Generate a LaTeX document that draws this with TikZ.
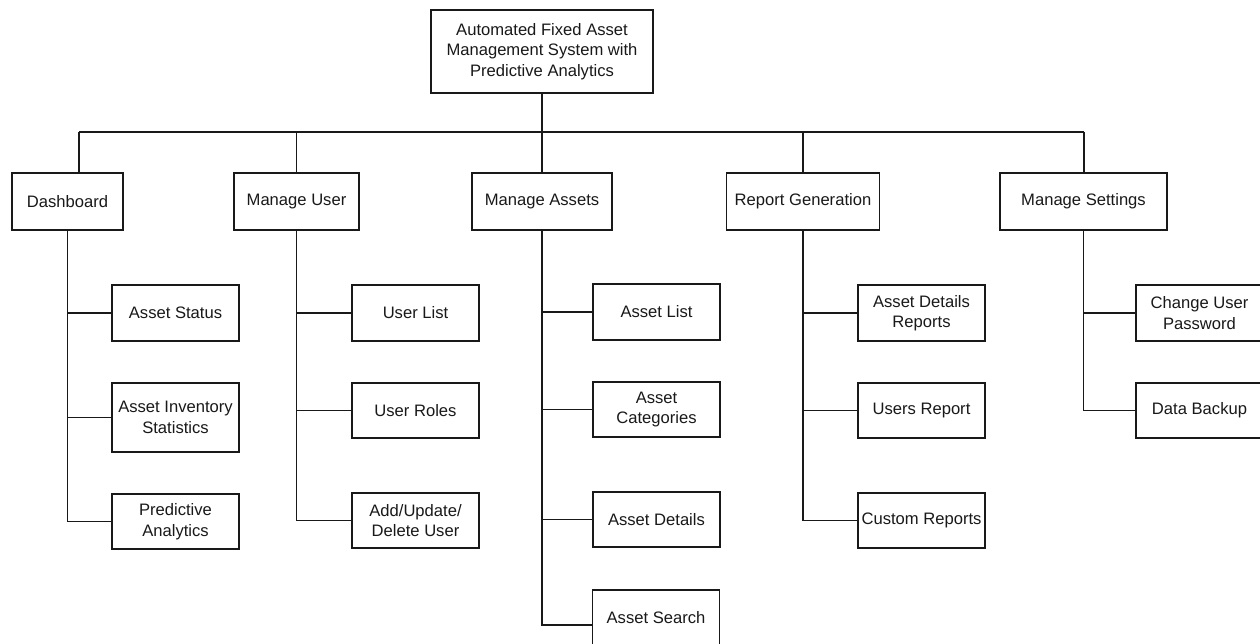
\documentclass[tikz,border=0pt]{standalone}
\usepackage{fontspec}
\setmainfont{Liberation Sans}
\begin{document}
\begin{tikzpicture}[x=1pt,y=-1pt,
  box/.style={draw=black!90, line width=1.4pt, fill=white, align=center, inner sep=0pt,
    font=\fontsize{16.6}{20.5}\selectfont, text=black!90},
  lvl/.style={box, minimum height=57pt},
  leaf/.style={box, minimum width=127pt, minimum height=56pt},
  wire/.style={draw=black!90, line width=1.4pt}
]
\clip (0,0) rectangle (1260,644);
\fill[white] (0,0) rectangle (1260,644);

% root
\node[box, minimum width=222pt, minimum height=83pt] (root) at (542,51.5)
  {Automated Fixed Asset\\Management System with\\Predictive Analytics};

% level 1
\node[lvl, minimum width=111pt] (dash) at (67.5,201.5) {Dashboard};
\node[lvl, minimum width=125pt] (mu) at (296.5,201.5) {Manage User};
\node[lvl, minimum width=140pt] (ma) at (542,201.5) {Manage Assets};
\node[lvl, minimum width=153pt] (rg) at (803,201.5) {Report Generation};
\node[lvl, minimum width=167pt] (ms) at (1083.5,201.5) {Manage Settings};

% dashboard children
\node[leaf] (d1) at (175.5,313) {Asset Status};
\node[leaf, minimum height=69pt] (d2) at (175.5,417.5) {Asset Inventory\\Statistics};
\node[leaf, minimum height=55pt] (d3) at (175.5,521.5) {Predictive\\Analytics};

% user children
\node[leaf] (u1) at (415.5,313) {User List};
\node[leaf, minimum height=55pt] (u2) at (415.5,410.5) {User Roles};
\node[leaf, minimum height=55pt] (u3) at (415.5,520.5) {Add/Update/\\Delete User};

% asset children
\node[leaf] (a1) at (656.5,312) {Asset List};
\node[leaf, minimum height=55pt] (a2) at (656.5,409.5) {Asset\\Categories};
\node[leaf, minimum height=55pt] (a3) at (656.5,519.5) {Asset Details};
\node[leaf, minimum height=55pt] (a4) at (656,617.5) {Asset Search};
\path (a4.west) ++(0,7.5) coordinate (a4in);

% report children
\node[leaf] (r1) at (921.5,313) {Asset Details\\Reports};
\node[leaf, minimum height=55pt] (r2) at (921.5,410.5) {Users Report};
\node[leaf, minimum height=55pt] (r3) at (921.5,520.5) {Custom Reports};

% settings children
\node[leaf] (s1) at (1199.5,313) {Change User\\Password};
\node[leaf, minimum height=55pt] (s2) at (1199.5,410.5) {Data Backup};

% bus
\coordinate (busL) at (79,132);
\coordinate (busR) at (1084,132);
\draw[wire] (root.south) -- (root.south |- busL);
\draw[wire] (busL) -- (busR);
\draw[wire] (busL) -- (busL |- dash.north);
\draw[wire] (mu.north |- busL) -- (mu.north);
\draw[wire] (ma.north |- busL) -- (ma.north);
\draw[wire] (rg.north |- busL) -- (rg.north);
\draw[wire] (busR) -- (busR |- ms.north);

% trunks
\draw[wire] (dash.south) |- (d3.west);
\draw[wire] (dash.south |- d1.west) -- (d1.west);
\draw[wire] (dash.south |- d2.west) -- (d2.west);

\draw[wire] (mu.south) |- (u3.west);
\draw[wire] (mu.south |- u1.west) -- (u1.west);
\draw[wire] (mu.south |- u2.west) -- (u2.west);

\draw[wire] (ma.south) |- (a4in);
\draw[wire] (ma.south |- a1.west) -- (a1.west);
\draw[wire] (ma.south |- a2.west) -- (a2.west);
\draw[wire] (ma.south |- a3.west) -- (a3.west);

\draw[wire] (rg.south) |- (r3.west);
\draw[wire] (rg.south |- r1.west) -- (r1.west);
\draw[wire] (rg.south |- r2.west) -- (r2.west);

\draw[wire] (ms.south) |- (s2.west);
\draw[wire] (ms.south |- s1.west) -- (s1.west);
\end{tikzpicture}
\end{document}
